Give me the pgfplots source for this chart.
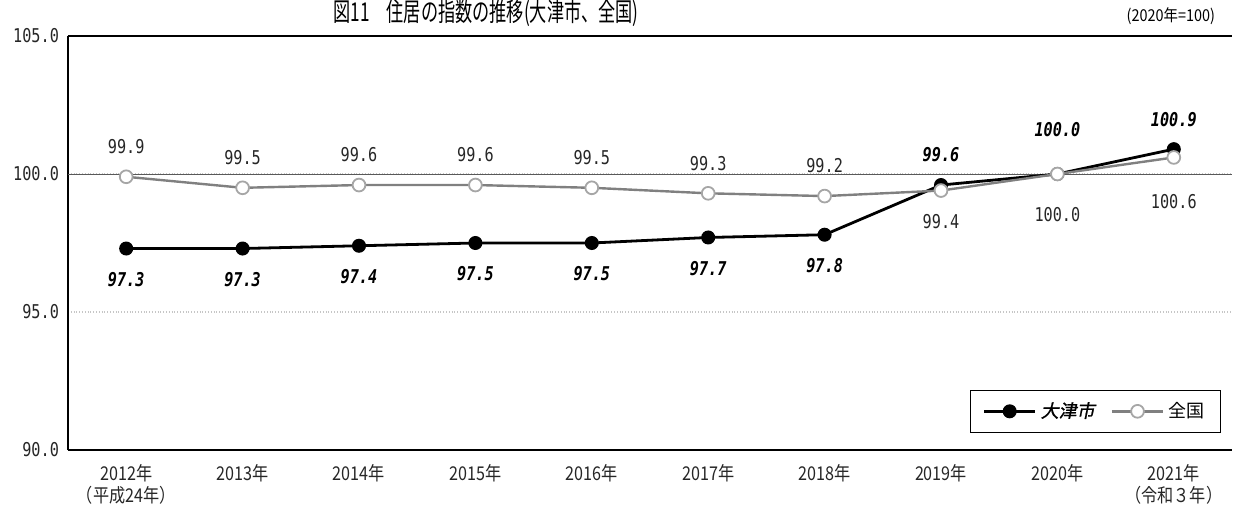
\documentclass[border=0pt]{standalone}
\usepackage{pgfplots}
\pgfplotsset{compat=1.18}
\usepackage{fontspec}
\setmainfont{Noto Sans CJK JP}
\newfontfamily\slantf{Noto Sans CJK JP}[FakeSlant=0.2, FakeBold=1.2]
\newfontfamily\numf{DejaVu Sans Mono}
\newcommand{\nar}[1]{\scalebox{0.8}[1]{#1}}
\newcommand{\jnar}[1]{\scalebox{0.85}[1]{#1}}
\definecolor{zgline}{HTML}{808080}
\definecolor{zgmark}{HTML}{A6A6A6}

\pgfplotsset{
  otsulab/.style={forget plot, draw=none, mark=none, point meta=explicit symbolic,
    nodes near coords={\numf\bfseries\itshape\nar{\pgfplotspointmeta}},
    every node near coord/.append style={anchor=center, yshift=#1,
      font=\fontsize{9.5}{11}\selectfont, text=black}},
  zenlab/.style={forget plot, draw=none, mark=none, point meta=explicit symbolic,
    nodes near coords={\numf\nar{\pgfplotspointmeta}},
    every node near coord/.append style={anchor=center, yshift=#1,
      font=\fontsize{9.5}{11}\selectfont, text=black!85}},
}

\begin{document}
\begin{tikzpicture}
\begin{axis}[
  at={(0,0)}, anchor=south west,
  scale only axis,
  width=582pt, height=207pt,
  xmin=-0.5, xmax=9.5,
  ymin=90, ymax=105,
  axis x line*=bottom, axis y line*=left,
  axis line style={-, line width=1pt, black},
  xtick={0,...,9},
  xticklabels={
    {\jnar{2012年}\\\jnar{（平成24年）}},
    {\jnar{2013年}},{\jnar{2014年}},{\jnar{2015年}},{\jnar{2016年}},
    {\jnar{2017年}},{\jnar{2018年}},{\jnar{2019年}},{\jnar{2020年}},
    {\jnar{2021年}\\\jnar{（令和３年）}}},
  xticklabel style={align=center, font=\fontsize{9.5}{11}\selectfont, text=black!85, yshift=-3.5pt},
  ytick={90,95,100,105},
  yticklabels={\nar{90.0},\nar{95.0},\nar{100.0},\nar{105.0}},
  yticklabel style={font=\numf\fontsize{9.5}{11}\selectfont, text=black!85, xshift=-1pt},
  major tick length=0pt,
  ymajorgrids=true,
  grid style={densely dotted, gray!45, line width=0.6pt},
  clip=false,
  legend style={at={(0.9905,0.041)}, anchor=south east, legend columns=2,
    draw=black, line width=0.6pt, font=\fontsize{9}{11}\selectfont,
    /tikz/every even column/.append style={column sep=6pt},
    inner xsep=6pt, inner ysep=4pt},
  legend cell align=left,
  legend image code/.code={%
    \draw[mark repeat=2, mark phase=2, #1] plot coordinates {(0cm,0cm) (0.45cm,0cm) (0.9cm,0cm)};},
]
\draw[gray!70!black, line width=0.5pt] (axis cs:-0.5,100) -- (axis cs:9.5,100);
\draw[black, line width=1pt] (axis cs:-0.5,105) -- (axis cs:9.5,105);

\addplot[black, line width=1.4pt, mark=*, mark size=3.2pt,
  mark options={fill=black, draw=black, line width=0.6pt}]
  coordinates {(0,97.3) (1,97.3) (2,97.4) (3,97.5) (4,97.5) (5,97.7) (6,97.8) (7,99.6) (8,100.0) (9,100.9)};
\addlegendentry{\slantf 大津市}

\addplot[zgline, line width=1.2pt, mark=*, mark size=3.2pt,
  mark options={fill=white, draw=zgmark, line width=0.9pt}]
  coordinates {(0,99.9) (1,99.5) (2,99.6) (3,99.6) (4,99.5) (5,99.3) (6,99.2) (7,99.4) (8,100.0) (9,100.6)};
\addlegendentry{全国}

% labels
\addplot[otsulab=-15.5pt] coordinates {(0,97.3)[97.3] (1,97.3)[97.3] (2,97.4)[97.4] (3,97.5)[97.5] (4,97.5)[97.5] (5,97.7)[97.7] (6,97.8)[97.8]};
\addplot[otsulab=15pt] coordinates {(7,99.6)[99.6] (9,100.9)[100.9]};
\addplot[otsulab=22pt] coordinates {(8,100.0)[100.0]};
\addplot[zenlab=15pt] coordinates {(0,99.9)[99.9] (1,99.5)[99.5] (2,99.6)[99.6] (3,99.6)[99.6] (4,99.5)[99.5] (5,99.3)[99.3] (6,99.2)[99.2]};
\addplot[zenlab=-15.5pt] coordinates {(7,99.4)[99.4]};
\addplot[zenlab=-20.5pt] coordinates {(8,100.0)[100.0]};
\addplot[zenlab=-22pt] coordinates {(9,100.6)[100.6]};
\end{axis}
\node[anchor=center] at (209pt,218.5pt) {\scalebox{0.66}[1]{\fontsize{13}{15}\selectfont 図11　住居の指数の推移(大津市、全国)}};
\node[anchor=east] at (577pt,217pt) {\scalebox{0.88}[1]{\fontsize{8.2}{9}\selectfont (2020年=100)}};
\pgfresetboundingbox
\path[use as bounding box] (-34pt,-27pt) rectangle (582.5pt,225pt);
\end{tikzpicture}
\end{document}
